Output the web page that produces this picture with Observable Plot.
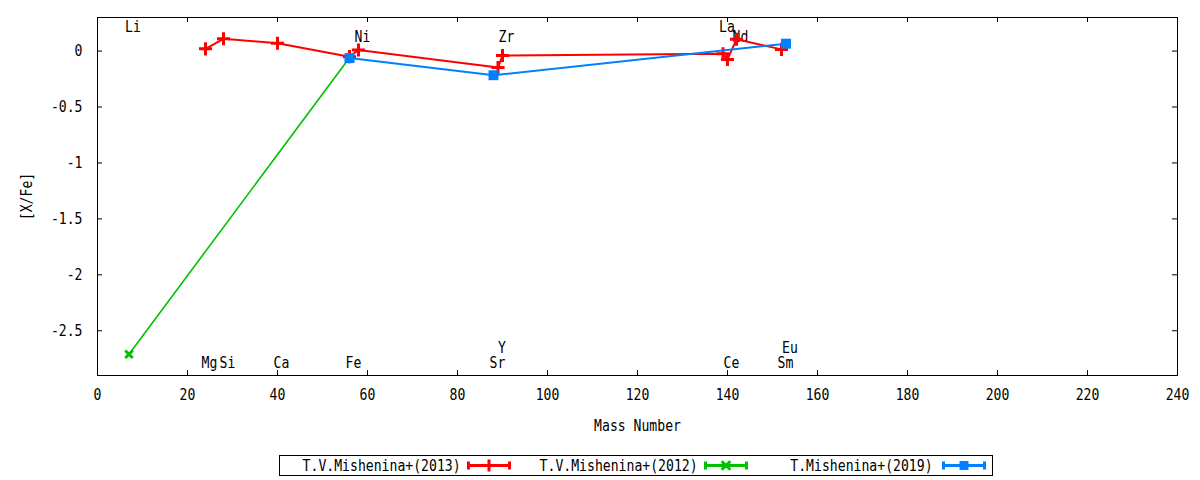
<!DOCTYPE html>
<html>
<head>
<meta charset="utf-8">
<script src="https://cdn.jsdelivr.net/npm/d3@7"></script>
<script src="https://cdn.jsdelivr.net/npm/@observablehq/plot@0.6"></script>
<style>
  html, body { margin: 0; padding: 0; background: #fff; }
  body { width: 1200px; height: 480px; position: relative; overflow: hidden; font-family: "DejaVu Sans Mono", monospace; }
  #legend { position: absolute; left: 279px; top: 455px; width: 712px; height: 19px; border: 1px solid #000; display: flex; font-size: 15px; }
  #legend .item { width: 238px; height: 19px; display: flex; align-items: center; }
  #legend .lab { width: 178px; text-align: right; white-space: nowrap; }
  #legend .lab span { display: inline-block; transform: scaleX(0.875); transform-origin: right center; }
  #legend svg { margin-left: 9px; }
</style>
</head>
<body>
<div id="chart"></div>
<div id="legend"></div>
<script>
// ---- data ----
const mishenina2013 = [
  { el: "Mg", mass: 24,  xfe: 0.02 },
  { el: "Si", mass: 28,  xfe: 0.11 },
  { el: "Ca", mass: 40,  xfe: 0.07 },
  { el: "Fe", mass: 56,  xfe: -0.05 },
  { el: "Ni", mass: 58,  xfe: 0.01 },
  { el: "Y",  mass: 89,  xfe: -0.147 },
  { el: "Zr", mass: 90,  xfe: -0.04 },
  { el: "La", mass: 139, xfe: -0.025 },
  { el: "Ce", mass: 140, xfe: -0.075 },
  { el: "Nd", mass: 142, xfe: 0.105 },
  { el: "Sm", mass: 152, xfe: 0.015 }
];
const mishenina2012 = [
  { el: "Li", mass: 7,  xfe: -2.71 },
  { el: "Fe", mass: 56, xfe: -0.06 }
];
const mishenina2019 = [
  { el: "Fe", mass: 56,  xfe: -0.063 },
  { el: "Sr", mass: 88,  xfe: -0.216 },
  { el: "Eu", mass: 153, xfe: 0.066 }
];
const seriesNames = ["T.V.Mishenina+(2013)", "T.V.Mishenina+(2012)", "T.Mishenina+(2019)"];
const seriesColors = ["#ff0000", "#00c000", "#0080ff"];
const seriesSymbols = ["plus", "times", "square"];

// element labels: row "t1"/"t2" near top, "b1"/"b2" near bottom
const elementLabels = [
  { el: "Li", mass: 7,   row: "t1" },
  { el: "La", mass: 139, row: "t1" },
  { el: "Ni", mass: 58,  row: "t2" },
  { el: "Zr", mass: 90,  row: "t2" },
  { el: "Nd", mass: 142, row: "t2" },
  { el: "Mg", mass: 24,  row: "b1" },
  { el: "Si", mass: 28,  row: "b1" },
  { el: "Ca", mass: 40,  row: "b1" },
  { el: "Fe", mass: 56,  row: "b1" },
  { el: "Sr", mass: 88,  row: "b1" },
  { el: "Ce", mass: 140, row: "b1" },
  { el: "Sm", mass: 152, row: "b1" },
  { el: "Y",  mass: 89,  row: "b2" },
  { el: "Eu", mass: 153, row: "b2" }
];
const xTicks = [0, 20, 40, 60, 80, 100, 120, 140, 160, 180, 200, 220, 240];
const yTicks = [-2.5, -2, -1.5, -1, -0.5, 0];

// ---- layout ----
const W = 1200, H = 445;
const mL = 97, mR = 23, mT = 17, mB = 70;
const innerW = W - mL - mR, innerH = H - mT - mB;
const tickLen = 5;
const font = "DejaVu Sans Mono";
const fs = 15;
const squeeze = 0.875;

const rowStyle = {
  t1: { frameAnchor: "top", dy: 10 },
  t2: { frameAnchor: "top", dy: 20 },
  b1: { frameAnchor: "bottom", dy: -12 },
  b2: { frameAnchor: "bottom", dy: -27 }
};

const datasets = [mishenina2013, mishenina2012, mishenina2019];
const seriesMarks = [];
datasets.forEach((data, i) => {
  seriesMarks.push(Plot.line(data, { x: "mass", y: "xfe", stroke: seriesColors[i], strokeWidth: i === 1 ? 1.6 : 2 }));
  if (seriesSymbols[i] === "square") {
    seriesMarks.push(Plot.dot(data, { x: "mass", y: "xfe", symbol: "square", fill: seriesColors[i], r: 5.6 }));
  } else {
    seriesMarks.push(Plot.dot(data, { x: "mass", y: "xfe", symbol: seriesSymbols[i], stroke: seriesColors[i], strokeWidth: 3, r: seriesSymbols[i] === "plus" ? 4.3 : 3.5 }));
  }
});

const labelMarks = Object.keys(rowStyle).map(row =>
  Plot.text(elementLabels.filter(d => d.row === row), {
    x: "mass", text: "el", dx: 4, ...rowStyle[row],
    fontSize: fs, fontFamily: font, fill: "#000", textAnchor: "middle", lineAnchor: "middle"
  })
);

const chart = Plot.plot({
  width: W, height: H,
  marginLeft: mL, marginRight: mR, marginTop: mT, marginBottom: mB,
  style: { fontFamily: font, fontSize: fs + "px", background: "#fff", color: "#000" },
  x: { domain: [0, 240] },
  y: { domain: [-2.9, 0.3] },
  marks: [
    Plot.axisX({ ticks: xTicks, tickSize: 0, tickPadding: 14, tickFormat: d => String(d), fontSize: fs,
      label: "Mass Number", labelAnchor: "center", labelArrow: "none", labelOffset: 55 }),
    Plot.axisY({ ticks: yTicks, tickSize: 0, tickPadding: 15, tickFormat: d => String(d), fontSize: fs,
      label: "[X/Fe]", labelAnchor: "center", labelArrow: "none", labelOffset: 76 }),
    Plot.tickX(xTicks, { x: d => d, stroke: "#000", insetTop: innerH - tickLen }),
    Plot.tickX(xTicks, { x: d => d, stroke: "#000", insetBottom: innerH - tickLen }),
    Plot.tickY(yTicks, { y: d => d, stroke: "#000", insetRight: innerW - tickLen }),
    Plot.tickY(yTicks, { y: d => d, stroke: "#000", insetLeft: innerW - tickLen }),
    ...labelMarks,
    ...seriesMarks,
    Plot.frame({ stroke: "#000", strokeWidth: 1 })
  ]
});

// narrow the glyphs horizontally (gnuplot's condensed look), keeping each anchor fixed
chart.querySelectorAll("text").forEach(t => {
  const tr = t.getAttribute("transform") || "";
  const xa = t.getAttribute("x");
  let shift = "";
  if (xa !== null && !isNaN(+xa)) {
    shift = ` translate(${+xa},0)`;
    t.removeAttribute("x");
  }
  t.setAttribute("transform", `${tr}${shift} scale(${squeeze},1)`.trim());
});
document.getElementById("chart").appendChild(chart);

// ---- legend ----
const legend = d3.select("#legend");
seriesNames.forEach((name, i) => {
  const item = legend.append("div").attr("class", "item");
  item.append("span").attr("class", "lab").append("span").text(name);
  const s = item.append("svg").attr("width", 44).attr("height", 19);
  const c = seriesColors[i];
  s.append("line").attr("x1", 1).attr("x2", 43).attr("y1", 9.5).attr("y2", 9.5).attr("stroke", c).attr("stroke-width", 3);
  s.append("line").attr("x1", 1.5).attr("x2", 1.5).attr("y1", 5.5).attr("y2", 13.5).attr("stroke", c).attr("stroke-width", 3);
  s.append("line").attr("x1", 42.5).attr("x2", 42.5).attr("y1", 5.5).attr("y2", 13.5).attr("stroke", c).attr("stroke-width", 3);
  const sym = d3.symbol().type(i === 0 ? d3.symbolPlus : i === 1 ? d3.symbolTimes : d3.symbolSquare).size(i === 2 ? 80 : 50);
  const p = s.append("path").attr("d", sym()).attr("transform", "translate(22,9.5)");
  if (i === 2) p.attr("fill", c); else p.attr("fill", "none").attr("stroke", c).attr("stroke-width", 3);
});
</script>
</body>
</html>
